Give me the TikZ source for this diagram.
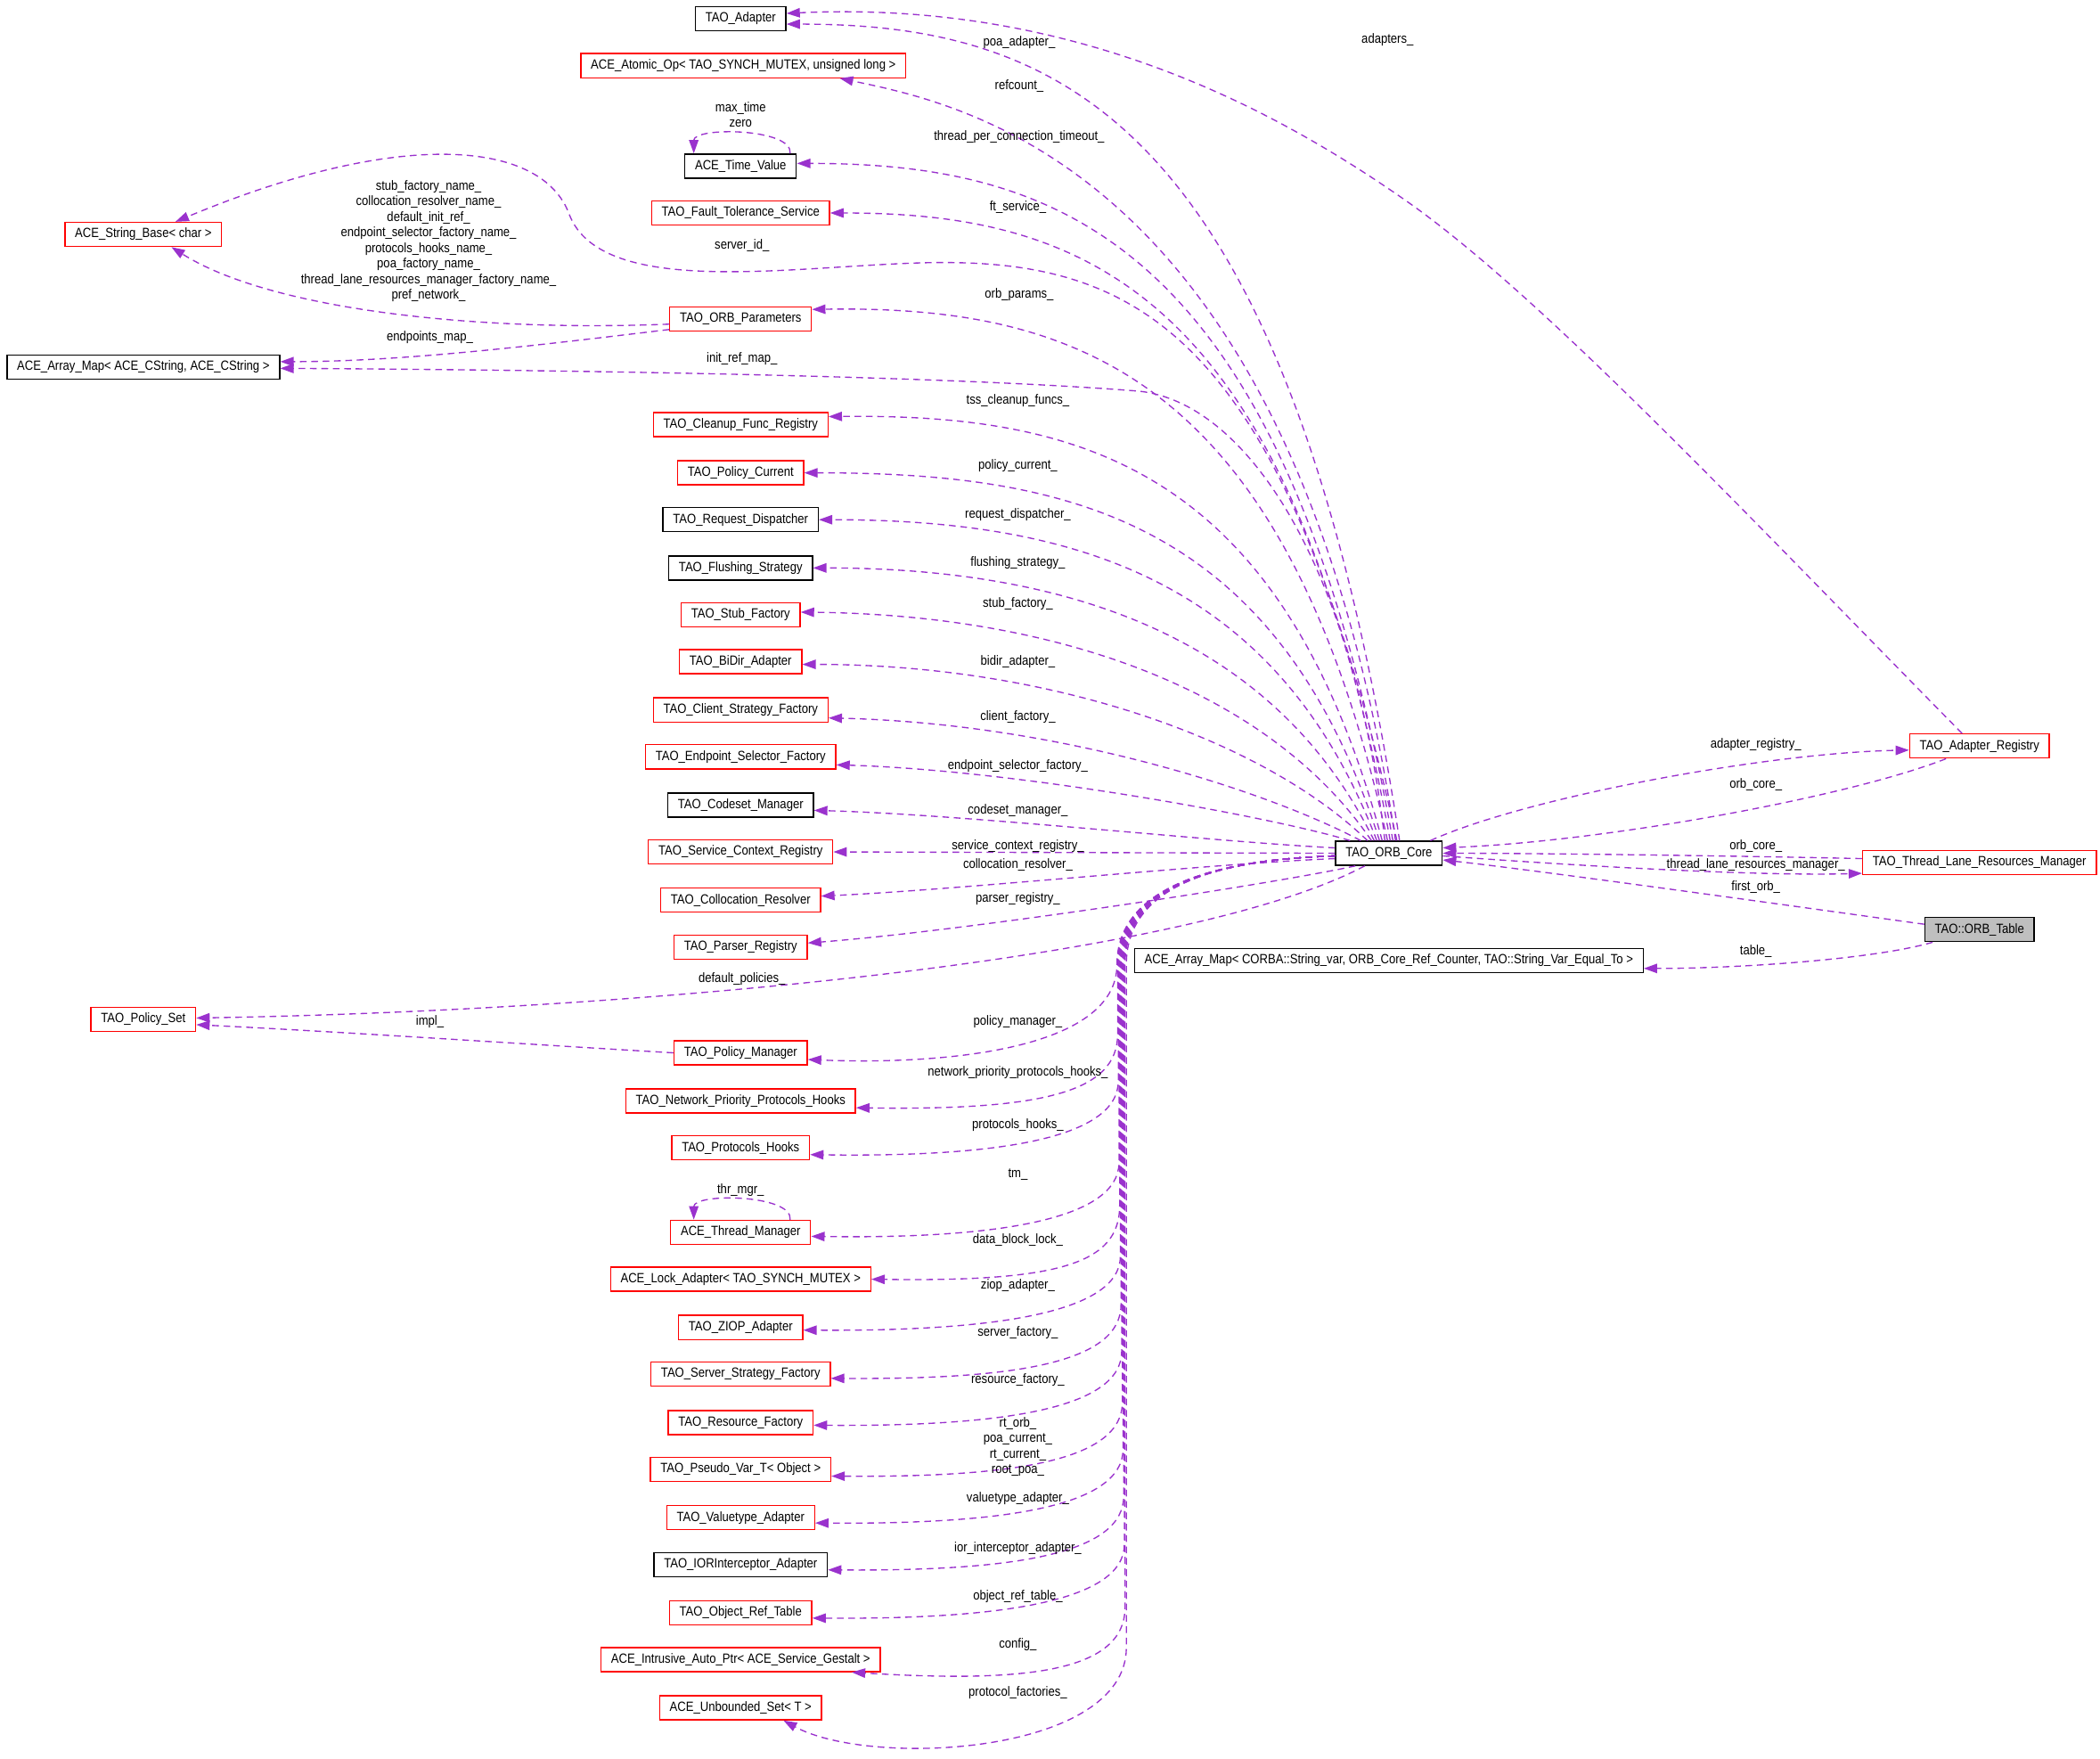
\documentclass[tikz,border=0pt]{standalone}
\usepackage{fontspec}
\setmainfont{Liberation Sans}[FakeStretch=0.87]
\usetikzlibrary{arrows.meta}
\definecolor{edgepurple}{RGB}{154,50,205}
\definecolor{boxred}{RGB}{255,0,0}
\definecolor{tablegray}{RGB}{191,191,191}

\begin{document}
\begin{tikzpicture}[x=1pt,y=-1pt,>={Triangle[length=10pt,width=7pt]},
  class node/.style={draw=black,line width=0.9pt,fill=white,minimum height=18pt,inner xsep=7.5pt,inner ysep=0pt,font=\fontsize{10}{11.6}\selectfont},
  red node/.style={class node,draw=boxred},
  ref edge/.style={->,draw=edgepurple,line width=0.9pt,dash pattern=on 5pt off 3.5pt},
  ref label/.style={inner sep=0pt,align=center,font=\fontsize{10}{11.6}\selectfont}]
\useasboundingbox (0,0) rectangle (1568,1313);

\node[class node] (ad) at (553,14) {TAO\_Adapter};
\node[red node] (aop) at (555,49) {ACE\_Atomic\_Op< TAO\_SYNCH\_MUTEX, unsigned long >};
\node[class node] (tv) at (553,124) {ACE\_Time\_Value};
\node[red node] (fts) at (553,159) {TAO\_Fault\_Tolerance\_Service};
\node[red node] (sb) at (107,175) {ACE\_String\_Base< char >};
\node[red node] (op) at (553,238) {TAO\_ORB\_Parameters};
\node[class node] (am) at (107,274) {ACE\_Array\_Map< ACE\_CString, ACE\_CString >};
\node[red node] (cfr) at (553,317) {TAO\_Cleanup\_Func\_Registry};
\node[red node] (pc) at (553,353) {TAO\_Policy\_Current};
\node[class node] (rd) at (553,388) {TAO\_Request\_Dispatcher};
\node[class node] (fs) at (553,424) {TAO\_Flushing\_Strategy};
\node[red node] (sf) at (553,459) {TAO\_Stub\_Factory};
\node[red node] (bda) at (553,494) {TAO\_BiDir\_Adapter};
\node[red node] (csf) at (553,530) {TAO\_Client\_Strategy\_Factory};
\node[red node] (esf) at (553,565) {TAO\_Endpoint\_Selector\_Factory};
\node[class node] (cm) at (553,601) {TAO\_Codeset\_Manager};
\node[red node] (scr) at (553,636) {TAO\_Service\_Context\_Registry};
\node[red node] (cr) at (553,672) {TAO\_Collocation\_Resolver};
\node[red node] (pr) at (553,707) {TAO\_Parser\_Registry};
\node[red node] (ps) at (107,761) {TAO\_Policy\_Set};
\node[red node] (pm) at (553,786) {TAO\_Policy\_Manager};
\node[red node] (npph) at (553,822) {TAO\_Network\_Priority\_Protocols\_Hooks};
\node[red node] (ph) at (553,857) {TAO\_Protocols\_Hooks};
\node[red node] (tm) at (553,920) {ACE\_Thread\_Manager};
\node[red node] (la) at (553,955) {ACE\_Lock\_Adapter< TAO\_SYNCH\_MUTEX >};
\node[red node] (za) at (553,991) {TAO\_ZIOP\_Adapter};
\node[red node] (ssf) at (553,1026) {TAO\_Server\_Strategy\_Factory};
\node[red node] (rf) at (553,1062) {TAO\_Resource\_Factory};
\node[red node] (pv) at (553,1097) {TAO\_Pseudo\_Var\_T< Object >};
\node[red node] (va) at (553,1133) {TAO\_Valuetype\_Adapter};
\node[class node] (ia) at (553,1168) {TAO\_IORInterceptor\_Adapter};
\node[red node] (ort) at (553,1204) {TAO\_Object\_Ref\_Table};
\node[red node] (iap) at (553,1239) {ACE\_Intrusive\_Auto\_Ptr< ACE\_Service\_Gestalt >};
\node[red node] (us) at (553,1275) {ACE\_Unbounded\_Set< T >};
\node[class node] (core) at (1037,637) {TAO\_ORB\_Core};
\node[class node] (am2) at (1037,717) {ACE\_Array\_Map< CORBA::String\_var, ORB\_Core\_Ref\_Counter, TAO::String\_Var\_Equal\_To >};
\node[red node] (ar) at (1478,557) {TAO\_Adapter\_Registry};
\node[red node] (tlrm) at (1478,644) {TAO\_Thread\_Lane\_Resources\_Manager};
\node[class node,fill=tablegray] (ot) at (1478,694) {TAO::ORB\_Table};

% members reached over the top of the core
\draw[ref edge] ([xshift=8pt]core.north) .. controls (963,91) and (794,18) .. ([yshift=-4pt]ad.east);
\draw[ref edge] ([xshift=5pt]core.north) .. controls (967,126) and (720,78) .. ([xshift=72pt]aop.south);
\draw[ref edge] ([xshift=3pt]core.north) .. controls (960,184) and (795,122) .. ([yshift=2pt]tv.east);
\draw[ref edge] ([xshift=1pt]core.north) .. controls (963,215) and (808,159) .. (fts.east);
\draw[ref edge] ([xshift=6pt]core.north) .. controls (960,250) and (850,195) .. (700,196) .. controls (600,197) and (450,225) .. (425,160) .. controls (405,105) and (300,95) .. ([xshift=24pt]sb.north);
\draw[ref edge] ([xshift=-1pt]core.north) .. controls (959,278) and (800,228) .. ([yshift=7pt]op.east);
\draw[ref edge] ([xshift=-3pt]core.north) .. controls (1010,420) and (930,300) .. (850,292) .. controls (700,280) and (400,276) .. ([yshift=-1pt]am.east);
\draw[ref edge] ([xshift=-5pt]core.north) .. controls (957,347) and (804,309) .. ([yshift=6pt]cfr.east);
\draw[ref edge] ([xshift=-7pt]core.north) .. controls (953,386) and (794,353) .. (pc.east);
\draw[ref edge] ([xshift=-9pt]core.north) .. controls (953,431) and (799,388) .. (rd.east);
\draw[ref edge] ([xshift=-11pt]core.north) .. controls (951,475) and (796,424) .. (fs.east);
\draw[ref edge] ([xshift=-13pt]core.north) .. controls (947,515) and (789,459) .. ([yshift=2pt]sf.east);
\draw[ref edge] ([xshift=-16pt]core.north) .. controls (945,554) and (788,496) .. ([yshift=-2pt]bda.east);
\draw[ref edge] ([xshift=-21pt]core.north) .. controls (945,590) and (790,540) .. ([yshift=-6pt]csf.east);
\draw[ref edge] ([xshift=-29pt]core.north) .. controls (950,610) and (760,575) .. ([yshift=-6pt]esf.east);
\draw[ref edge] ([yshift=4pt]core.west) .. controls (900,628) and (720,608) .. ([yshift=-4pt]cm.east);
\draw[ref edge] (core.west) -- (scr.east);
\draw[ref edge] ([yshift=-4pt]core.west) .. controls (900,645) and (720,664) .. ([yshift=3pt]cr.east);
\draw[ref edge] ([xshift=-25pt]core.south) .. controls (950,660) and (720,695) .. ([yshift=3pt]pr.east);
\draw[ref edge] ([xshift=-18pt]core.south) .. controls (880,720) and (450,755) .. ([yshift=1pt]ps.east);

% right hand side
\draw[ref edge] ([xshift=31pt]core.north) .. controls (1140,595) and (1320,562) .. ([yshift=-3pt]ar.west);
\draw[ref edge] ([xshift=-25pt]ar.south) .. controls (1380,595) and (1200,628) .. ([yshift=4pt]core.east);
\draw[ref edge] ([yshift=3pt]tlrm.west) .. controls (1300,639) and (1150,637) .. (core.east);
\draw[ref edge] ([yshift=-2pt]core.east) .. controls (1200,648) and (1320,654) .. ([yshift=-8pt]tlrm.west);
\draw[ref edge] ([yshift=4pt]ot.west) .. controls (1350,678) and (1150,650) .. ([yshift=-5pt]core.east);
\draw[ref edge] ([xshift=-35pt]ot.south) .. controls (1400,716) and (1300,723) .. ([yshift=-6pt]am2.east);
\draw[ref edge] ([xshift=-13pt]ar.north) .. controls (1300,380) and (1150,220) .. (1050,150) .. controls (950,80) and (800,0) .. ([yshift=4pt]ad.east);

% left hand side
\draw[ref edge] ([yshift=-4pt]op.west) .. controls (350,248) and (200,230) .. ([xshift=21pt]sb.south);
\draw[ref edge] ([yshift=-8pt]op.west) .. controls (400,258) and (300,270) .. ([yshift=4pt]am.east);
\draw[ref edge] (pm.west) .. controls (400,780) and (250,770) .. ([yshift=-4pt]ps.east);
\draw[ref edge] ([xshift=37pt]tv.north) .. controls +(2,-19) and +(0,-20) .. ([xshift=-35pt]tv.north);
\draw[ref edge] ([xshift=37pt]tm.north) .. controls +(2,-19) and +(0,-20) .. ([xshift=-35pt]tm.north);

% members reached down the bundle
\draw[ref edge] ([yshift=-2pt]core.west) .. controls (900,642) and (834,665) .. (834,720) .. controls (834,785) and (700,795) .. ([yshift=-5pt]pm.east);
\draw[ref edge] ([yshift=-2pt]core.west) .. controls (900,642) and (834.5,665) .. (834.5,720) -- (834.5,772) .. controls (834.5,815) and (780,829) .. ([yshift=-5pt]npph.east);
\draw[ref edge] ([yshift=-2pt]core.west) .. controls (900,642) and (835,665) .. (835,720) -- (835,807) .. controls (835,850) and (745,864) .. ([yshift=-5pt]ph.east);
\draw[ref edge] ([yshift=-2pt]core.west) .. controls (900,642) and (835.5,665) .. (835.5,720) -- (835.5,868) .. controls (835.5,910) and (746,925) .. ([yshift=-3pt]tm.east);
\draw[ref edge] ([yshift=-2pt]core.west) .. controls (900,642) and (836,665) .. (836,720) -- (836,900) .. controls (836,943) and (792,957) .. (la.east);
\draw[ref edge] ([yshift=-2pt]core.west) .. controls (900,642) and (836.5,665) .. (836.5,720) -- (836.5,938) .. controls (836.5,981) and (738,994) .. ([yshift=-2pt]za.east);
\draw[ref edge] ([yshift=-2pt]core.west) .. controls (900,642) and (837,665) .. (837,720) -- (837,974) .. controls (837,1017) and (760,1030) .. ([yshift=-3pt]ssf.east);
\draw[ref edge] ([yshift=-2pt]core.west) .. controls (900,642) and (837.5,665) .. (837.5,720) -- (837.5,1009) .. controls (837.5,1052) and (747,1065) .. ([yshift=-2pt]rf.east);
\draw[ref edge] ([yshift=-2pt]core.west) .. controls (900,642) and (838,665) .. (838,720) -- (838,1047) .. controls (838,1090) and (759,1103) .. ([yshift=-5pt]pv.east);
\draw[ref edge] ([yshift=-2pt]core.west) .. controls (900,642) and (838.5,665) .. (838.5,720) -- (838.5,1082) .. controls (838.5,1125) and (749,1138) .. ([yshift=-4pt]va.east);
\draw[ref edge] ([yshift=-2pt]core.west) .. controls (900,642) and (839,665) .. (839,720) -- (839,1117) .. controls (839,1160) and (758,1173) .. ([yshift=-4pt]ia.east);
\draw[ref edge] ([yshift=-2pt]core.west) .. controls (900,642) and (839.5,665) .. (839.5,720) -- (839.5,1153) .. controls (839.5,1196) and (745,1209) .. ([yshift=-4pt]ort.east);
\draw[ref edge] ([yshift=-2pt]core.west) .. controls (900,642) and (840,665) .. (840,720) -- (840,1200) .. controls (840,1250) and (760,1256) .. ([xshift=83pt]iap.south);
\draw[ref edge] ([yshift=-2pt]core.west) .. controls (900,642) and (841,665) .. (841,720) -- (841,1230) .. controls (841,1310) and (650,1320) .. ([xshift=32pt]us.south);

% labels
\node[ref label] (l-poa) at (761,32) {poa\_adapter\_};
\node[ref label] (l-adapters) at (1036,30) {adapters\_};
\node[ref label] (l-refcount) at (761,64) {refcount\_};
\node[ref label] (l-time) at (553,85.5) {max\_time\\zero};
\node[ref label] (l-tpct) at (761,102) {thread\_per\_connection\_timeout\_};
\node[ref label] (l-ft) at (760,155) {ft\_service\_};
\node[ref label] (l-names) at (320,180) {stub\_factory\_name\_\\collocation\_resolver\_name\_\\default\_init\_ref\_\\endpoint\_selector\_factory\_name\_\\protocols\_hooks\_name\_\\poa\_factory\_name\_\\thread\_lane\_resources\_manager\_factory\_name\_\\pref\_network\_};
\node[ref label] (l-server) at (554,183) {server\_id\_};
\node[ref label] (l-params) at (761,220) {orb\_params\_};
\node[ref label] (l-endpoints) at (321,252) {endpoints\_map\_};
\node[ref label] (l-initref) at (554,268) {init\_ref\_map\_};
\node[ref label] (l-tss) at (760,299) {tss\_cleanup\_funcs\_};
\node[ref label] (l-pcur) at (760,348) {policy\_current\_};
\node[ref label] (l-rdis) at (760,384) {request\_dispatcher\_};
\node[ref label] (l-flush) at (760,420) {flushing\_strategy\_};
\node[ref label] (l-stub) at (760,451) {stub\_factory\_};
\node[ref label] (l-bidir) at (760,494) {bidir\_adapter\_};
\node[ref label] (l-client) at (760,535) {client\_factory\_};
\node[ref label] (l-esf) at (760,572) {endpoint\_selector\_factory\_};
\node[ref label] (l-codeset) at (760,605) {codeset\_manager\_};
\node[ref label] (l-scr) at (760,631.5) {service\_context\_registry\_};
\node[ref label] (l-coll) at (760,645.5) {collocation\_resolver\_};
\node[ref label] (l-parser) at (760,671) {parser\_registry\_};
\node[ref label] (l-defpol) at (554,731) {default\_policies\_};
\node[ref label] (l-impl) at (321,763) {impl\_};
\node[ref label] (l-pman) at (760,763) {policy\_manager\_};
\node[ref label] (l-npph) at (760,801) {network\_priority\_protocols\_hooks\_};
\node[ref label] (l-phooks) at (760,840) {protocols\_hooks\_};
\node[ref label] (l-tm) at (760,877) {tm\_};
\node[ref label] (l-thr) at (553,888.5) {thr\_mgr\_};
\node[ref label] (l-dbl) at (760,926) {data\_block\_lock\_};
\node[ref label] (l-ziop) at (760,960) {ziop\_adapter\_};
\node[ref label] (l-sfac) at (760,995) {server\_factory\_};
\node[ref label] (l-rfac) at (760,1030) {resource\_factory\_};
\node[ref label] (l-pseudo) at (760,1080) {rt\_orb\_\\poa\_current\_\\rt\_current\_\\root\_poa\_};
\node[ref label] (l-vta) at (760,1119) {valuetype\_adapter\_};
\node[ref label] (l-ior) at (760,1156) {ior\_interceptor\_adapter\_};
\node[ref label] (l-ort) at (760,1192) {object\_ref\_table\_};
\node[ref label] (l-config) at (760,1228) {config\_};
\node[ref label] (l-pfac) at (760,1264) {protocol\_factories\_};
\node[ref label] (l-areg) at (1311,556) {adapter\_registry\_};
\node[ref label] (l-orbcore1) at (1311,586) {orb\_core\_};
\node[ref label] (l-orbcore2) at (1311,632) {orb\_core\_};
\node[ref label] (l-tlrm) at (1311,646) {thread\_lane\_resources\_manager\_};
\node[ref label] (l-first) at (1311,662) {first\_orb\_};
\node[ref label] (l-table) at (1311,710) {table\_};
\end{tikzpicture}
\end{document}
